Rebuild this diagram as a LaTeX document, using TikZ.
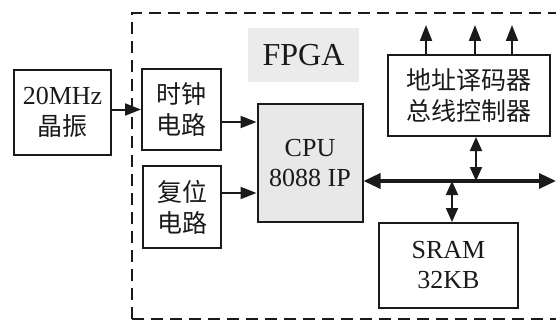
\documentclass[tikz,border=0pt]{standalone}
\usepackage{fontspec}
\setmainfont{Liberation Serif}
\newfontfamily\cjk{Noto Sans CJK SC}
\usetikzlibrary{arrows.meta,calc}

\definecolor{boxgray}{HTML}{E8E8E8}
\definecolor{labelgray}{HTML}{EBEBEB}
\definecolor{ink}{HTML}{1A1A1A}

\tikzset{
  blk/.style={draw=ink, line width=2pt, rectangle, align=center, inner sep=0pt,
              font=\fontsize{26}{30}\selectfont, text=ink},
  cjkblk/.style={blk, font=\cjk\fontsize{25}{31}\selectfont},
  arr/.style={line width=2pt, draw=ink, -{Triangle[length=16pt,width=12pt]}},
  dblarr/.style={line width=2pt, draw=ink,
                 {Triangle[length=14pt,width=12pt]}-{Triangle[length=14pt,width=12pt]}},
  busarr/.style={line width=3.4pt, draw=ink,
                 {Triangle[length=17pt,width=15pt]}-{Triangle[length=17pt,width=15pt]}},
  frame/.style={draw=ink, line width=2.6pt, dash pattern=on 12pt off 7pt},
}

\begin{document}
\begin{tikzpicture}[x=1pt, y=-1pt]
  \useasboundingbox (0,0) rectangle (556,321);

  % FPGA boundary (open to the right)
  \draw[frame] (132,319) -- (132,13) -- (570,13);
  \draw[frame] (132,319) -- (570,319);

  % FPGA caption
  \node[fill=labelgray, minimum width=111pt, minimum height=54pt, inner sep=0pt,
        font=\fontsize{32}{36}\selectfont, text=ink] (fpga) at (303.5,55) {FPGA};

  % blocks
  \node[cjkblk, minimum width=97pt, minimum height=85pt] (osc) at (62.5,112.5)
    {{\fontspec{Liberation Serif}\fontsize{26}{30}\selectfont 20MHz}\\晶振};
  \node[cjkblk, minimum width=79pt, minimum height=81pt] (clk) at (181.5,109.5) {时钟\\电路};
  \node[cjkblk, minimum width=78pt, minimum height=82pt] (rst) at (182,207) {复位\\电路};
  \node[blk, fill=boxgray, minimum width=105pt, minimum height=118pt] (cpu) at (310,163)
    {CPU\\8088 IP};
  \node[cjkblk, minimum width=162pt, minimum height=81pt] (dec) at (469,95.5)
    {地址译码器\\总线控制器};
  \node[blk, minimum width=139pt, minimum height=85pt] (sram) at (448.5,265.5)
    {SRAM\\32KB};

  % free ends
  \coordinate (busR) at (556,181);
  \coordinate (o1) at (426,25);
  \coordinate (o2) at (475,25);
  \coordinate (o3) at (512,25);

  % clock and reset paths
  \draw[arr] (osc.east |- clk.west) -- (clk.west);
  \draw[arr] ([yshift=-12.5pt]clk.east) -- ([yshift=-12.5pt]clk.east -| cpu.west);
  \draw[arr] ([yshift=14pt]rst.east) -- ([yshift=14pt]rst.east -| cpu.west);

  % system bus
  \draw[busarr] (cpu.east |- busR) -- (busR);
  \draw[dblarr] ([xshift=3.5pt]sram.north |- busR) -- ([xshift=3.5pt]sram.north);
  \draw[dblarr] ([xshift=7pt]dec.south |- busR) -- ([xshift=7pt]dec.south);

  % decoder outputs
  \draw[arr] (o1 |- dec.north) -- (o1);
  \draw[arr] (o2 |- dec.north) -- (o2);
  \draw[arr] (o3 |- dec.north) -- (o3);
\end{tikzpicture}
\end{document}
